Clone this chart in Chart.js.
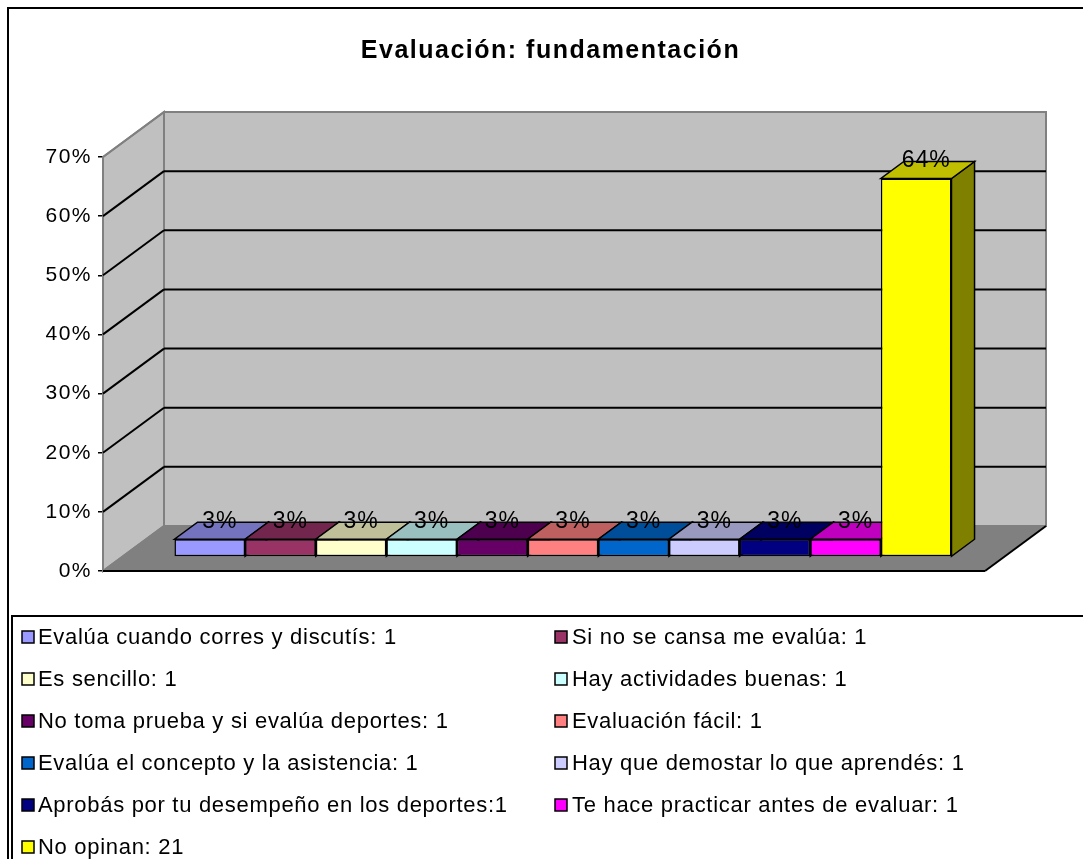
<!DOCTYPE html>
<html>
<head>
<meta charset="utf-8">
<script src="https://cdn.jsdelivr.net/npm/chart.js@4.4.1/dist/chart.umd.min.js"></script>
<style>
  html, body { margin: 0; padding: 0; background: #ffffff; }
  canvas { display: block; }
</style>
</head>
<body>
<canvas id="c" width="1083" height="859"></canvas>
<script>
// ---------------- data ----------------
const chartTitle = 'Evaluación: fundamentación';
const seriesNames = [
  'Evalúa cuando corres y discutís: 1',
  'Si no se cansa me evalúa: 1',
  'Es sencillo: 1',
  'Hay actividades buenas: 1',
  'No toma prueba y si evalúa deportes: 1',
  'Evaluación fácil: 1',
  'Evalúa el concepto y la asistencia: 1',
  'Hay que demostar lo que aprendés: 1',
  'Aprobás por tu desempeño en los deportes:1',
  'Te hace practicar antes de evaluar: 1',
  'No opinan: 21'
];
const percentValues = [3, 3, 3, 3, 3, 3, 3, 3, 3, 3, 64];
const yTickValues = [0, 10, 20, 30, 40, 50, 60, 70];

// ---------------- styles ----------------
const seriesColors = ['#9999FF', '#993366', '#FFFFCC', '#CCFFFF', '#660066', '#FF8080',
                      '#0066CC', '#CCCCFF', '#000080', '#FF00FF', '#FFFF00'];
const FONT = "'Liberation Sans', Arial, sans-serif";
const DEPTH = { x: 61, y: -45 };        // floor depth vector
const GAP_F = 0.311, BAR_F = 0.378;     // bar placement in depth
const FRONT = { x: DEPTH.x * GAP_F, y: DEPTH.y * GAP_F };
const BDEP = { x: DEPTH.x * BAR_F, y: DEPTH.y * BAR_F };

function shade(hex, f) {
  const n = parseInt(hex.slice(1), 16);
  const r = Math.round(((n >> 16) & 255) * f), g = Math.round(((n >> 8) & 255) * f), b = Math.round((n & 255) * f);
  return `rgb(${r},${g},${b})`;
}
function poly(ctx, pts, fill, stroke, lw) {
  ctx.beginPath();
  ctx.moveTo(pts[0][0], pts[0][1]);
  for (let i = 1; i < pts.length; i++) ctx.lineTo(pts[i][0], pts[i][1]);
  ctx.closePath();
  if (fill) { ctx.fillStyle = fill; ctx.fill(); }
  if (stroke) { ctx.strokeStyle = stroke; ctx.lineWidth = lw || 1; ctx.stroke(); }
}
function line(ctx, x1, y1, x2, y2, color, lw) {
  ctx.beginPath(); ctx.moveTo(x1, y1); ctx.lineTo(x2, y2);
  ctx.strokeStyle = color; ctx.lineWidth = lw; ctx.stroke();
}

const threeD = {
  id: 'threeD',
  beforeDraw(chart) {
    const ctx = chart.ctx;
    ctx.save();
    ctx.fillStyle = '#ffffff';
    ctx.fillRect(0, 0, chart.width, chart.height);
    ctx.strokeStyle = '#000'; ctx.lineWidth = 2;
    ctx.strokeRect(8, 8, chart.width + 50, chart.height + 50);
    ctx.restore();
    ctx.letterSpacing = '1.5px';
  },
  beforeDatasetsDraw(chart) {
    const ctx = chart.ctx;
    const a = chart.chartArea;
    const ys = chart.scales.y;
    const L = a.left, R = a.right, T = a.top, B = a.bottom;
    const dx = DEPTH.x, dy = DEPTH.y;
    ctx.save();
    ctx.lineJoin = 'miter';
    // back wall
    poly(ctx, [[L + dx, T + dy], [R + dx, T + dy], [R + dx, B + dy], [L + dx, B + dy]], '#C0C0C0', '#808080', 2);
    // left wall
    poly(ctx, [[L, T], [L + dx, T + dy], [L + dx, B + dy], [L, B]], '#C0C0C0', '#808080', 2);
    // floor
    poly(ctx, [[L, B], [L + dx, B + dy], [R + dx, B + dy], [R, B]], '#808080', null);
    line(ctx, L, B, L + dx, B + dy, '#808080', 2);
    line(ctx, L + dx, B + dy, R + dx, B + dy, '#808080', 2);
    // gridlines
    yTickValues.forEach(v => {
      if (v === 0) return;
      const y = ys.getPixelForValue(v);
      const col = v === yTickValues[yTickValues.length - 1] ? '#808080' : '#000000';
      line(ctx, L, y, L + dx, y + dy, col, 2);
      line(ctx, L + dx, y + dy, R + dx, y + dy, col, 2);
    });
    // floor front edges
    line(ctx, L, B, R, B, '#000', 2);
    line(ctx, R, B, R + dx, B + dy, '#000', 2);
    // bar side & top faces
    chart.data.datasets.forEach((ds, i) => {
      const meta = chart.getDatasetMeta(i);
      meta.data.forEach(el => {
        const p = el.getProps(['x', 'y', 'base', 'width'], true);
        const l = p.x - p.width / 2 + FRONT.x, r = p.x + p.width / 2 + FRONT.x;
        const t = p.y + FRONT.y, b = p.base + FRONT.y;
        const col = seriesColors[i];
        poly(ctx, [[r, t], [r + BDEP.x, t + BDEP.y], [r + BDEP.x, b + BDEP.y], [r, b]], shade(col, 0.5), '#000', 1.5);
        poly(ctx, [[l, t], [r, t], [r + BDEP.x, t + BDEP.y], [l + BDEP.x, t + BDEP.y]], shade(col, 0.75), '#000', 1.5);
      });
    });
    ctx.restore();
    ctx.save();
    ctx.translate(FRONT.x, FRONT.y);
  },
  afterDatasetsDraw(chart) {
    const ctx = chart.ctx;
    ctx.restore();
    ctx.save();
    ctx.font = `23px ${FONT}`;
    ctx.letterSpacing = '1px';
    ctx.fillStyle = '#000';
    ctx.textAlign = 'center';
    ctx.textBaseline = 'alphabetic';
    chart.data.datasets.forEach((ds, i) => {
      const meta = chart.getDatasetMeta(i);
      meta.data.forEach((el, j) => {
        const p = el.getProps(['x', 'y'], true);
        ctx.fillText(ds.data[j] + '%', p.x + FRONT.x + 10, p.y + FRONT.y - 11);
      });
    });
    ctx.restore();
  },
  afterDraw(chart) {
    const ctx = chart.ctx;
    ctx.save();
    // legend box
    ctx.strokeStyle = '#000'; ctx.lineWidth = 2;
    ctx.strokeRect(12, 616, chart.width + 50, chart.height);
    ctx.font = `22px ${FONT}`;
    ctx.letterSpacing = '0.7px';
    ctx.textBaseline = 'middle';
    ctx.textAlign = 'left';
    chart.data.datasets.forEach((ds, i) => {
      const col = i % 2, row = Math.floor(i / 2);
      const y = 637 + row * 42;
      const mx = col === 0 ? 22 : 555;
      const tx = col === 0 ? 38 : 572;
      ctx.fillStyle = seriesColors[i];
      ctx.fillRect(mx, y - 6, 12, 12);
      ctx.strokeStyle = '#000'; ctx.lineWidth = 1.5;
      ctx.strokeRect(mx, y - 6, 12, 12);
      ctx.fillStyle = '#000';
      ctx.fillText(ds.label, tx, y + 1);
    });
    ctx.restore();
  }
};

const datasets = seriesNames.map((name, i) => ({
  label: name,
  data: [percentValues[i]],
  backgroundColor: seriesColors[i],
  borderColor: '#000000',
  borderWidth: 1.5,
  borderSkipped: false,
  yAxisID: 'y',
  xAxisID: 'x',
  categoryPercentage: 0.881,
  barPercentage: 1.0
}));

Chart.defaults.font.family = FONT;
Chart.defaults.color = '#000';

new Chart(document.getElementById('c'), {
  type: 'bar',
  data: { labels: [''], datasets },
  options: {
    responsive: false,
    animation: false,
    events: [],
    layout: { padding: { left: 18, right: 0, top: 0, bottom: 288 } },
    plugins: {
      legend: { display: false },
      tooltip: { enabled: false },
      title: {
        display: true,
        text: chartTitle,
        color: '#000',
        font: { family: FONT, size: 25, weight: 'bold', lineHeight: 1.2 },
        padding: { top: 36, bottom: 91 }
      }
    },
    scales: {
      x: { display: false },
      y: {
        position: 'left',
        min: 0, max: 70,
        afterBuildTicks(scale) { scale.ticks = yTickValues.map(v => ({ value: v })); },
        afterFit(scale) { scale.width = 85; },
        ticks: {
          stepSize: 10,
          padding: 6,
          color: '#000',
          font: { family: FONT, size: 21 },
          callback: v => v + '%'
        },
        grid: { drawOnChartArea: false, drawTicks: true, tickLength: 5, color: '#000', lineWidth: 1.5 },
        border: { display: true, color: '#000', width: 2 }
      },
      y2: {
        position: 'right',
        display: true,
        afterFit(scale) { scale.width = 98; },
        ticks: { display: false },
        grid: { display: false },
        border: { display: false }
      }
    }
  },
  plugins: [threeD]
});
</script>
</body>
</html>
